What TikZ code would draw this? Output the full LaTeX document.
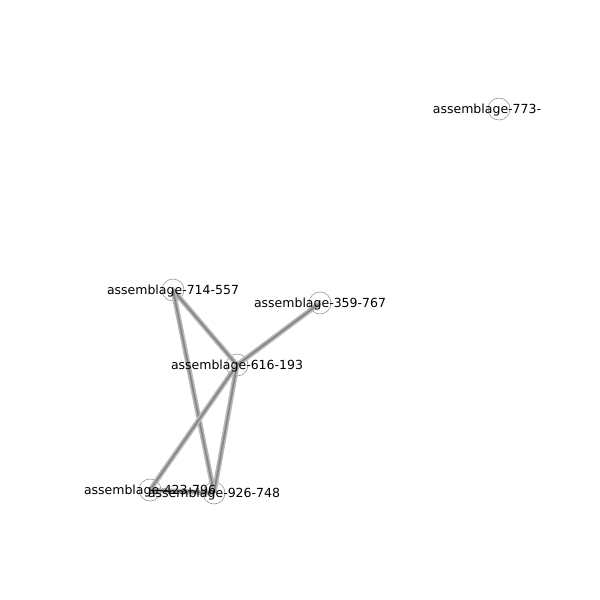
\documentclass[tikz,border=0pt]{standalone}
\usepackage{fontspec}
\setmainfont{DejaVu Sans}
\begin{document}
\begin{tikzpicture}[x=1bp,y=-1bp,
  vert/.style={circle,draw=gray!80,fill=white,line width=0.6bp,minimum size=22bp,inner sep=0pt},
  lab/.style={inner sep=0pt,font=\fontsize{12.5bp}{15bp}\selectfont},
  edgeout/.style={draw=gray!55,line width=5bp},
  edgein/.style={draw=gray!95,line width=1.8bp}]
\useasboundingbox[fill=white] (0,0) rectangle (600,600);
\node[vert] (n773) at (499,109) {};
\node[vert] (n714) at (173,290) {};
\node[vert] (n359) at (320,303) {};
\node[vert] (n616) at (237,365) {};
\node[vert] (n423) at (150,490) {};
\node[vert] (n926) at (214,493) {};
\foreach \a/\b in {n714/n616,n714/n926,n616/n359,n616/n423,n616/n926,n423/n926}{
  \path[edgeout] (\a.center) -- (\b.center);
  \path[edgein] (\a.center) -- (\b.center);
}
\node[lab] (t773) at (487,110.3) {assemblage-773-};
\node[lab] (t714) at (173,291.3) {assemblage-714-557};
\node[lab] (t359) at (320,304.3) {assemblage-359-767};
\node[lab] (t616) at (237,366.3) {assemblage-616-193};
\node[lab] (t423) at (150,491.3) {assemblage-423-796};
\node[lab] (t926) at (214,494.3) {assemblage-926-748};
\end{tikzpicture}
\end{document}
